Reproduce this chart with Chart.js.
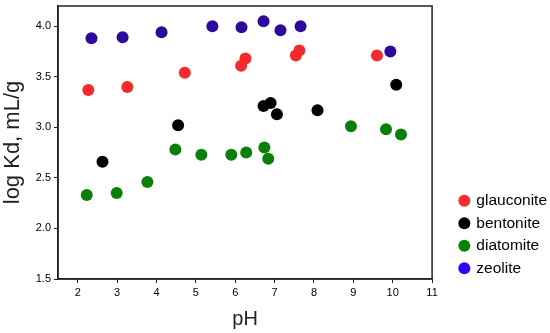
<!DOCTYPE html>
<html lang="en">
<head>
    <meta charset="UTF-8">
    <title>log Kd vs pH</title>
    <script src="https://cdn.jsdelivr.net/npm/chart.js"></script>
    <style>
        html, body {
            margin: 0;
            padding: 0;
            background: #fff;
        }
        #wrap {
            width: 550px;
            height: 333px;
        }
    </style>
</head>
<body>
<div id="wrap">
    <canvas id="kdChart" width="550" height="333"></canvas>
</div>
<script>
    // pH and log Kd values
    const glauconitePH = [2.27, 3.26, 4.72, 6.15, 6.26, 7.54, 7.63, 9.60];
    const glauconiteKd = [3.37, 3.40, 3.54, 3.61, 3.68, 3.71, 3.76, 3.71];

    const bentonitePH = [2.63, 4.55, 6.72, 6.90, 7.06, 8.09, 10.09];
    const bentoniteKd = [2.66, 3.02, 3.21, 3.24, 3.13, 3.17, 3.42];

    const diatomitePH = [2.23, 2.99, 3.77, 4.48, 5.14, 5.90, 6.28, 6.74, 6.84, 8.94, 9.83, 10.21];
    const diatomiteKd = [2.33, 2.35, 2.46, 2.78, 2.73, 2.73, 2.75, 2.80, 2.69, 3.01, 2.98, 2.93];

    const zeolitePH = [2.35, 3.14, 4.13, 5.42, 6.16, 6.72, 7.15, 7.66, 9.94];
    const zeoliteKd = [3.88, 3.89, 3.94, 4.00, 3.99, 4.05, 3.96, 4.00, 3.75];

    const seriesNames = ['glauconite', 'bentonite', 'diatomite', 'zeolite'];
    const xTicks = [2, 3, 4, 5, 6, 7, 8, 9, 10, 11];
    const yTicks = [1.5, 2.0, 2.5, 3.0, 3.5, 4.0];

    const pointColors = ['#f52a2a', '#000000', '#0a7f0a', '#2c0a9c'];
    const legendColors = ['#ff2b2b', '#000000', '#0a800a', '#3300ff'];

    function toPoints(xs, ys) {
        return xs.map((x, i) => ({ x: x, y: ys[i] }));
    }

    const allData = [
        toPoints(glauconitePH, glauconiteKd),
        toPoints(bentonitePH, bentoniteKd),
        toPoints(diatomitePH, diatomiteKd),
        toPoints(zeolitePH, zeoliteKd)
    ];

    // box round the plot area
    const frame = {
        id: 'frame',
        afterDraw(chart) {
            const a = chart.chartArea;
            const ctx = chart.ctx;
            ctx.save();
            ctx.strokeStyle = '#222';
            ctx.lineWidth = 1.5;
            ctx.strokeRect(a.left, a.top, a.right - a.left, a.bottom - a.top);
            ctx.restore();
        }
    };

    // nudge the legend away from the plot, a bit lower
    const legendShift = {
        id: 'legendShift',
        afterLayout(chart) {
            const lg = chart.legend;
            lg.left += 21;
            lg.right += 21;
            lg.top += 4;
            lg.bottom += 4;
        }
    };

    Chart.defaults.font.family = '"Liberation Sans", Arial, sans-serif';
    Chart.defaults.color = '#000';

    new Chart(document.getElementById('kdChart'), {
        type: 'scatter',
        data: {
            datasets: seriesNames.map((name, i) => ({
                label: name,
                data: allData[i],
                backgroundColor: pointColors[i],
                borderColor: pointColors[i],
                borderWidth: 0,
                pointRadius: 6,
                pointHoverRadius: 6
            }))
        },
        options: {
            responsive: false,
            animation: false,
            layout: { padding: { left: 0, top: 5, right: 14, bottom: 2 } },
            plugins: {
                tooltip: { enabled: false },
                legend: {
                    position: 'right',
                    align: 'end',
                    fullSize: false,
                    labels: {
                        usePointStyle: true,
                        pointStyle: 'circle',
                        boxWidth: 8.5,
                        boxHeight: 8.5,
                        padding: 7,
                        color: '#222',
                        font: { size: 15.5 },
                        generateLabels(chart) {
                            return chart.data.datasets.map((ds, i) => ({
                                text: ds.label,
                                fillStyle: legendColors[i],
                                strokeStyle: legendColors[i],
                                lineWidth: 0,
                                pointStyle: 'circle',
                                datasetIndex: i,
                                hidden: false
                            }));
                        }
                    }
                }
            },
            scales: {
                x: {
                    type: 'linear',
                    min: 1.5,
                    max: 11,
                    afterBuildTicks(scale) {
                        scale.ticks = xTicks.map(v => ({ value: v }));
                    },
                    afterFit(scale) {
                        scale.height = 52;
                    },
                    ticks: {
                        font: { size: 11 },
                        color: '#000',
                        padding: 3
                    },
                    grid: {
                        drawOnChartArea: false,
                        drawTicks: true,
                        tickLength: 4,
                        tickColor: '#222'
                    },
                    border: { display: true, color: '#222', width: 1.5 },
                    title: {
                        display: true,
                        text: 'pH',
                        font: { size: 20 },
                        color: '#222',
                        padding: { top: 8, bottom: 0 }
                    }
                },
                y: {
                    type: 'linear',
                    min: 1.5,
                    max: 4.2,
                    afterBuildTicks(scale) {
                        scale.ticks = yTicks.map(v => ({ value: v }));
                    },
                    afterFit(scale) {
                        scale.width = 58;
                        scale.paddingTop = 0;
                        scale.paddingBottom = 0;
                    },
                    ticks: {
                        font: { size: 11 },
                        color: '#000',
                        padding: 3,
                        callback: v => v.toFixed(1)
                    },
                    grid: {
                        drawOnChartArea: false,
                        drawTicks: true,
                        tickLength: 4,
                        tickColor: '#222'
                    },
                    border: { display: true, color: '#222', width: 1.5 },
                    title: {
                        display: true,
                        text: 'log Kd, mL/g',
                        font: { size: 22 },
                        color: '#222',
                        padding: { top: 0, bottom: 5 }
                    }
                }
            }
        },
        plugins: [frame, legendShift]
    });
</script>
</body>
</html>
